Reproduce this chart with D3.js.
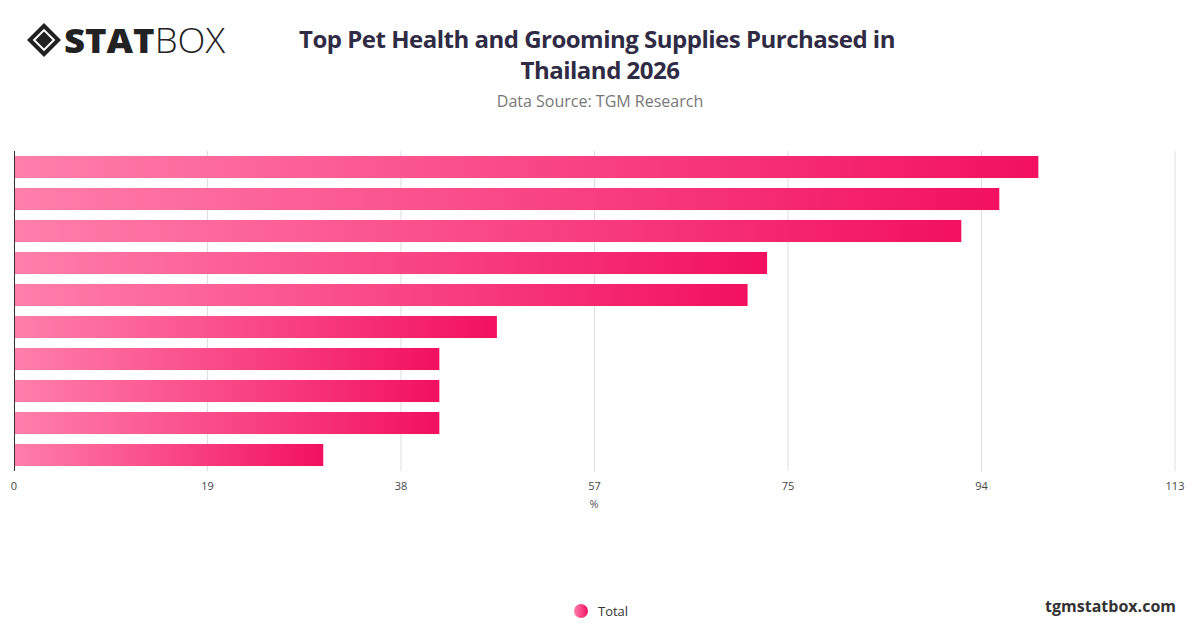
<!DOCTYPE html>
<html><head><meta charset="utf-8">
<script src="https://cdn.jsdelivr.net/npm/d3@7"></script>
<style>body{margin:0;background:#fff;font-family:"Open Sans",Roboto,sans-serif}</style>
</head><body>
<svg id="c" width="1200" height="628"></svg>
<script>
const categories = ["Item 1","Item 2","Item 3","Item 4","Item 5","Item 6","Item 7","Item 8","Item 9","Item 10"];
const values = [99.7, 95.9, 92.2, 73.3, 71.4, 47.0, 41.4, 41.4, 41.4, 30.1];
const tickLabels = ["0","19","38","57","75","94","113"];
const axisMax = 113;

const svg = d3.select("#c");
const defs = svg.append("defs");
const g1 = defs.append("linearGradient").attr("id","grad").attr("x1","0").attr("x2","1").attr("y1","0").attr("y2","0");
g1.append("stop").attr("offset","0").attr("stop-color","#ff7fab");
g1.append("stop").attr("offset","1").attr("stop-color","#f2115f");

const x = d3.scaleLinear().domain([0, axisMax]).range([14, 1175]);
const y = d3.scaleBand().domain(categories).range([151, 471]).paddingInner(0.31).paddingOuter(0.155);

const tickVals = tickLabels.map((_, i) => axisMax * i / (tickLabels.length - 1));
svg.append("g").selectAll("line").data(tickVals.slice(1)).join("line")
  .attr("x1", d => x(d)).attr("x2", d => x(d)).attr("y1", 151).attr("y2", 471)
  .attr("stroke", "#dedede").attr("stroke-width", 1);

svg.append("g").selectAll("rect").data(values).join("rect")
  .attr("x", x(0)).attr("y", (d, i) => y(categories[i]))
  .attr("width", d => x(d) - x(0)).attr("height", y.bandwidth())
  .attr("fill", "url(#grad)");

svg.append("line").attr("x1", 14.5).attr("x2", 14.5).attr("y1", 151).attr("y2", 471)
  .attr("stroke", "#333").attr("stroke-width", 1);

svg.append("g").selectAll("text").data(tickVals).join("text")
  .attr("x", d => x(d)).attr("y", 490).attr("text-anchor", "middle")
  .attr("font-size", 11).attr("fill", "#444").text((d, i) => tickLabels[i]);
svg.append("text").attr("x", 594).attr("y", 508).attr("text-anchor","middle")
  .attr("font-size", 11).attr("fill", "#555").text("%");

svg.append("text").attr("x", 597).attr("y", 48).attr("text-anchor","middle")
  .attr("font-size", 24).attr("font-weight", "bold").attr("fill", "#2f2b45")
  .attr("letter-spacing", "-0.5").text("Top Pet Health and Grooming Supplies Purchased in");
svg.append("text").attr("x", 600).attr("y", 79).attr("text-anchor","middle")
  .attr("font-size", 24).attr("font-weight", "bold").attr("fill", "#2f2b45")
  .attr("letter-spacing", "-0.5").text("Thailand 2026");
svg.append("text").attr("x", 600).attr("y", 107).attr("text-anchor","middle")
  .attr("font-size", 16).attr("fill", "#777").text("Data Source: TGM Research");

// logo
const lg = svg.append("g").attr("transform","translate(44,40)");
lg.append("rect").attr("x",-12).attr("y",-12).attr("width",24).attr("height",24)
  .attr("transform","rotate(45)").attr("fill","#222");
lg.append("rect").attr("x",-7).attr("y",-7).attr("width",14).attr("height",14)
  .attr("transform","rotate(45)").attr("fill","none").attr("stroke","#fff").attr("stroke-width",2);
const logo = svg.append("text").attr("x", 64).attr("y", 53).attr("font-size", 34).attr("fill","#222")
  .attr("textLength", 161).attr("lengthAdjust","spacingAndGlyphs");
logo.append("tspan").attr("font-weight","900").text("STAT");
logo.append("tspan").attr("font-weight","300").text("BOX");

svg.append("circle").attr("cx", 581).attr("cy", 611).attr("r", 7).attr("fill", "url(#grad)");
svg.append("text").attr("x", 598).attr("y", 616).attr("font-size", 13).attr("fill", "#333").text("Total");
svg.append("text").attr("x", 1176).attr("y", 612).attr("text-anchor","end").attr("font-size", 16)
  .attr("font-weight","bold").attr("fill","#333").text("tgmstatbox.com");
</script>
</body></html>
